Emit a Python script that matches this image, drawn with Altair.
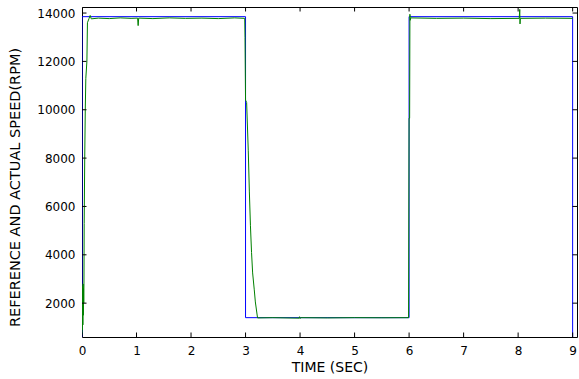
import altair as alt
import pandas as pd

# Reference speed (blue)
ref_t = [0, 0, 3, 3, 6, 6, 9, 9]
ref_v = [0, 13850, 13850, 1400, 1400, 13850, 13850, 0]

# Actual speed (green)
act_t = [0.0, 0.004, 0.008, 0.012, 0.016, 0.02, 0.024, 0.028, 0.032, 0.036,
         0.04, 0.05, 0.06, 0.07, 0.09, 0.1, 0.13, 0.15, 0.17, 0.3, 0.5, 0.7,
         0.9, 1.02, 1.03, 1.04, 1.3, 1.6, 1.9, 2.2, 2.5, 2.8, 2.985,
         2.99, 3.0, 3.02, 3.05, 3.07, 3.09, 3.11, 3.13, 3.16, 3.18, 3.22,
         3.5, 3.98, 3.99, 4.0, 4.01, 4.5, 5.0, 5.5, 5.99,
         6.0, 6.01, 6.015, 6.02, 6.03, 6.5, 7.0, 7.5, 8.02, 8.03, 8.035,
         8.04, 8.5, 9.0]
act_v = [700, 2300, 900, 2700, 1100, 2800, 1500, 2600, 2000, 2800,
         5300, 8000, 10000, 11300, 12000, 13600, 13780, 13900, 13760, 13790, 13770, 13800,
         13780, 13790, 13480, 13790, 13770, 13800, 13780, 13790, 13770, 13800, 13780,
         13000, 10400, 10300, 8300, 6600, 5200, 4100, 3250, 2550, 2050, 1390,
         1400, 1380, 1440, 1360, 1400, 1390, 1400, 1395, 1400,
         9650, 9650, 13950, 13700, 13800, 13780, 13790, 13770, 13780, 14150, 13550,
         13780, 13790, 13780]

x_ticks = [0, 1, 2, 3, 4, 5, 6, 7, 8, 9]
y_ticks = [2000, 4000, 6000, 8000, 10000, 12000, 14000]

X_DOM = [0, 9.08]
Y_DOM = [600, 14250]

ref_df = pd.DataFrame({"t": ref_t, "v": ref_v, "i": range(len(ref_t))})
act_df = pd.DataFrame({"t": act_t, "v": act_v, "i": range(len(act_t))})
xt_df = pd.DataFrame({"t": x_ticks})
yt_df = pd.DataFrame({"v": y_ticks})

FONT = "DejaVu Sans"

xscale = alt.Scale(domain=X_DOM, nice=False, zero=False)
yscale = alt.Scale(domain=Y_DOM, nice=False, zero=False)

xaxis = alt.Axis(values=x_ticks, format="d", ticks=False, domain=False, grid=False,
                 labelFlush=False, labelOverlap=False,
                 labelFont=FONT, labelFontSize=12, labelColor="black",
                 labelPadding=8, title="TIME (SEC)", titleFont=FONT,
                 titleFontSize=14, titleFontWeight="normal", titleColor="black",
                 titlePadding=4)
yaxis = alt.Axis(values=y_ticks, format="d", ticks=False, domain=False, grid=False,
                 labelFlush=False, labelOverlap=False,
                 labelFont=FONT, labelFontSize=12, labelColor="black",
                 labelPadding=7, title="REFERENCE AND ACTUAL SPEED(RPM)",
                 titleFont=FONT, titleFontSize=14.5, titleFontWeight="normal",
                 titleColor="black", titlePadding=14, titleY=180)

ref_line = alt.Chart(ref_df).mark_line(color="#0000ff", strokeWidth=1, clip=True).encode(
    x=alt.X("t:Q", scale=xscale, axis=xaxis),
    y=alt.Y("v:Q", scale=yscale, axis=yaxis),
    order="i:Q",
)
act_line = alt.Chart(act_df).mark_line(color="#008000", strokeWidth=1, clip=True).encode(
    x=alt.X("t:Q", scale=xscale),
    y=alt.Y("v:Q", scale=yscale),
    order="i:Q",
)

tick_style = dict(color="black", thickness=1, size=9, clip=True, opacity=1)
xt_bottom = alt.Chart(xt_df).mark_tick(orient="vertical", **tick_style).encode(
    x=alt.X("t:Q", scale=xscale), y=alt.datum(Y_DOM[0], scale=yscale))
xt_top = alt.Chart(xt_df).mark_tick(orient="vertical", **tick_style).encode(
    x=alt.X("t:Q", scale=xscale), y=alt.datum(Y_DOM[1], scale=yscale))
yt_left = alt.Chart(yt_df).mark_tick(orient="horizontal", **tick_style).encode(
    y=alt.Y("v:Q", scale=yscale), x=alt.datum(X_DOM[0], scale=xscale))
yt_right = alt.Chart(yt_df).mark_tick(orient="horizontal", **tick_style).encode(
    y=alt.Y("v:Q", scale=yscale), x=alt.datum(X_DOM[1], scale=xscale))

chart = alt.layer(ref_line, act_line, xt_bottom, xt_top, yt_left, yt_right).properties(
    width=495, height=330,
    autosize=alt.AutoSizeParams(type="none"),
    padding={"left": 82, "top": 7, "right": 2, "bottom": 42},
    background="white",
).configure_view(stroke="black", strokeWidth=1)

chart.save("out.html", embed_options={"renderer": "svg", "actions": False})
